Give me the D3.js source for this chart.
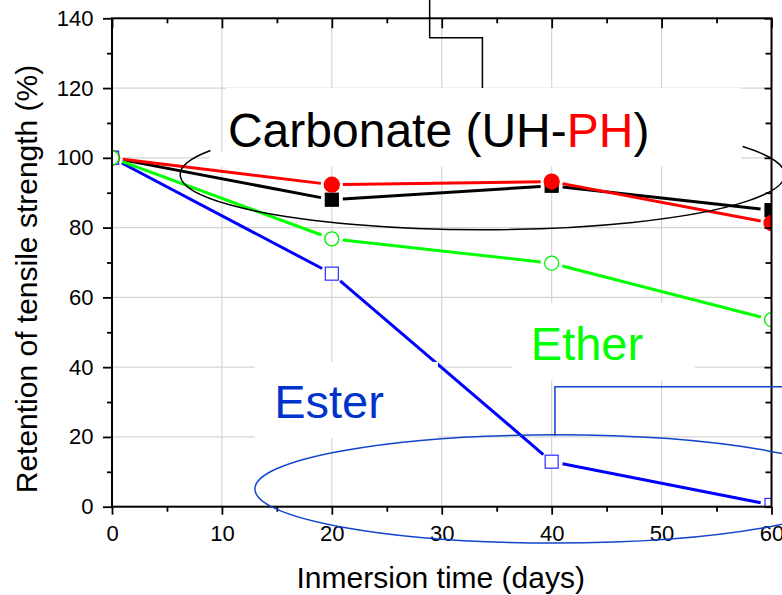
<!DOCTYPE html>
<html>
<head>
<meta charset="utf-8">
<script src="https://cdn.jsdelivr.net/npm/d3@7"></script>
<style>
body { margin: 0; background: #fff; }
svg { display: block; font-family: "Liberation Sans", Arial, sans-serif; }
</style>
</head>
<body>
<div id="chart"></div>
<script>
// values
const days = [0, 20, 40, 60];
const carbonateUH = [100, 88, 92, 85];
const carbonatePH = [100, 92.3, 93.2, 81.3];
const ether = [100, 76.8, 69.8, 53.6];
const ester = [100, 66.8, 12.9, 0.5];

const xMajor = [0, 10, 20, 30, 40, 50, 60];
const xMinor = [5, 15, 25, 35, 45, 55];
const yMajor = [0, 20, 40, 60, 80, 100, 120, 140];
const yMinor = [10, 30, 50, 70, 90, 110, 130];

// annotations, in data units
const carbonateLabelAt = [10.55, 103.2];
const esterLabelAt = [14.75, 25.4];
const etherLabelAt = [38.1, 42.1];
const carbonateEllipse = {cx: 33.7, cy: 95.2, rx: 27.5, ry: 15.8, from: -30.6, to: 205.9};
const esterEllipse = {cx: 40.3, cy: 5.1, rx: 27.3, ry: 15.5};
const carbonateLeader = [[28.9, 146], [28.9, 134.4], [33.7, 134.4], [33.7, 120.0]];
const esterLeader = [[40.3, 20.3], [40.3, 34.4], [63, 34.4]];
// white label boxes [x0, x1, y0, y1]
const labelBoxes = [
    [10.37, 57.23, 97.5, 120.1],
    [8.9, 10.37, 97.5, 101.7],
    [13.0, 29.66, 19.7, 41.5],
    [36.4, 53.05, 36.1, 58.4]
];

const width = 782, height = 595;
const gap = 11;

const x = d3.scaleLinear().domain([0, 60]).range([112, 771.5]);
const y = d3.scaleLinear().domain([0, 140]).range([506.7, 18.3]);

const svg = d3.select("#chart").append("svg")
    .attr("width", width)
    .attr("height", height);

svg.append("clipPath").attr("id", "plotClip")
    .append("rect")
    .attr("x", x(0)).attr("y", y(140))
    .attr("width", x(60) - x(0)).attr("height", y(0) - y(140));

// grid
const grid = svg.append("g").attr("stroke", "#d4d4d4").attr("stroke-width", 1.2);
grid.selectAll(".gx").data(xMajor.slice(1, -1)).enter().append("line")
    .attr("x1", d => x(d)).attr("x2", d => x(d))
    .attr("y1", y(0)).attr("y2", y(140));
grid.selectAll(".gy").data(yMajor.slice(1, -1)).enter().append("line")
    .attr("x1", x(0)).attr("x2", x(60))
    .attr("y1", d => y(d)).attr("y2", d => y(d));

// series (drawing order as in the original: green ends on top)
const series = [
    {vals: carbonateUH, color: "#000000", shape: "square", fill: "#000", stroke: "#000"},
    {vals: carbonatePH, color: "#ff0000", shape: "circle", fill: "#ff0000", stroke: "#ff0000"},
    {vals: ester, color: "#0000ff", shape: "square", fill: "#fff", stroke: "#2b2bff"},
    {vals: ether, color: "#00ff00", shape: "circle", fill: "#fff", stroke: "#00ee00"}
];

function shortened(vals) {
    const pts = days.map((d, i) => [x(d), y(vals[i])]);
    return d3.pairs(pts).map(([a, b]) => {
        const dx = b[0] - a[0], dy = b[1] - a[1];
        const len = Math.hypot(dx, dy);
        const ux = dx / len, uy = dy / len;
        return [a[0] + ux * gap, a[1] + uy * gap, b[0] - ux * gap, b[1] - uy * gap];
    });
}

const lines = svg.append("g");
series.forEach(s => {
    lines.append("g").selectAll("line")
        .data(shortened(s.vals))
        .enter().append("line")
        .attr("x1", d => d[0]).attr("y1", d => d[1])
        .attr("x2", d => d[2]).attr("y2", d => d[3])
        .attr("stroke", s.color)
        .attr("stroke-width", 3);
});

// white boxes behind the labels
svg.append("g").selectAll("rect")
    .data(labelBoxes)
    .enter().append("rect")
    .attr("x", d => x(d[0]))
    .attr("y", d => y(d[3]))
    .attr("width", d => x(d[1]) - x(d[0]))
    .attr("height", d => y(d[2]) - y(d[3]))
    .attr("fill", "#fff");

const markers = svg.append("g").attr("clip-path", "url(#plotClip)");
series.forEach(s => {
    const g = markers.append("g");
    if (s.shape === "circle") {
        g.selectAll("circle").data(days).enter().append("circle")
            .attr("cx", d => x(d))
            .attr("cy", (d, i) => y(s.vals[i]))
            .attr("r", s.fill === "#fff" ? 7 : 7.5)
            .attr("fill", s.fill)
            .attr("stroke", s.stroke)
            .attr("stroke-width", 1.3);
    } else {
        g.selectAll("rect").data(days).enter().append("rect")
            .attr("x", d => x(d) - 6.5)
            .attr("y", (d, i) => y(s.vals[i]) - 6.5)
            .attr("width", 13).attr("height", 13)
            .attr("fill", s.fill)
            .attr("stroke", s.stroke)
            .attr("stroke-width", 1.2);
    }
});

// axes
function styleAxis(g) {
    g.select(".domain").remove();
    g.selectAll("line").attr("stroke", "#000").attr("stroke-width", 1.8);
    g.selectAll("text").attr("fill", "#000").style("font-size", "22px")
        .style("font-family", "'Liberation Sans', Arial, sans-serif");
}

svg.append("g").attr("transform", `translate(0,${y(0)})`)
    .call(d3.axisBottom(x).tickValues(xMajor).tickSize(8).tickPadding(11).tickFormat(d3.format("d")))
    .call(styleAxis);
svg.append("g").attr("transform", `translate(0,${y(0)})`)
    .call(d3.axisBottom(x).tickValues(xMinor).tickSize(5).tickFormat(""))
    .call(styleAxis);
svg.append("g").attr("transform", `translate(${x(0)},0)`)
    .call(d3.axisLeft(y).tickValues(yMajor).tickSize(9).tickPadding(9.5).tickFormat(d3.format("d")))
    .call(styleAxis);
svg.append("g").attr("transform", `translate(${x(0)},0)`)
    .call(d3.axisLeft(y).tickValues(yMinor).tickSize(5).tickFormat(""))
    .call(styleAxis);
svg.append("g").attr("transform", `translate(0,${y(140)})`)
    .call(d3.axisTop(x).tickValues(xMajor).tickSize(-10).tickFormat(""))
    .call(styleAxis);
svg.append("g").attr("transform", `translate(0,${y(140)})`)
    .call(d3.axisTop(x).tickValues(xMinor).tickSize(-5).tickFormat(""))
    .call(styleAxis);
svg.append("g").attr("transform", `translate(${x(60)},0)`)
    .call(d3.axisRight(y).tickValues(yMajor).tickSize(-7).tickFormat(""))
    .call(styleAxis);
svg.append("g").attr("transform", `translate(${x(60)},0)`)
    .call(d3.axisRight(y).tickValues(yMinor).tickSize(-6).tickFormat(""))
    .call(styleAxis);

svg.append("rect")
    .attr("x", x(0)).attr("y", y(140))
    .attr("width", x(60) - x(0)).attr("height", y(0) - y(140))
    .attr("fill", "none").attr("stroke", "#000").attr("stroke-width", 2);

// axis titles
svg.append("text")
    .attr("x", (x(0) + x(60)) / 2 - 1)
    .attr("y", 588)
    .attr("text-anchor", "middle")
    .style("font-size", "30px")
    .text("Inmersion time (days)");

svg.append("text")
    .attr("transform", "translate(37,279) rotate(-90)")
    .attr("text-anchor", "middle")
    .style("font-size", "30px")
    .text("Retention of tensile strength (%)");

// annotations
const ce = carbonateEllipse;
const erx = x(ce.cx + ce.rx) - x(ce.cx), ery = y(ce.cy - ce.ry) - y(ce.cy);
const angle0 = ce.from * Math.PI / 180, angle1 = ce.to * Math.PI / 180;
const p0 = [x(ce.cx) + erx * Math.cos(angle0), y(ce.cy) + ery * Math.sin(angle0)];
const p1 = [x(ce.cx) + erx * Math.cos(angle1), y(ce.cy) + ery * Math.sin(angle1)];
svg.append("path")
    .attr("d", `M${p0[0]},${p0[1]} A${erx},${ery} 0 1 1 ${p1[0]},${p1[1]}`)
    .attr("fill", "none").attr("stroke", "#000").attr("stroke-width", 1.5);

const ee = esterEllipse;
svg.append("ellipse")
    .attr("cx", x(ee.cx)).attr("cy", y(ee.cy))
    .attr("rx", x(ee.cx + ee.rx) - x(ee.cx))
    .attr("ry", y(ee.cy - ee.ry) - y(ee.cy))
    .attr("fill", "none").attr("stroke", "#1144cc").attr("stroke-width", 1.5);

const leader = d3.line().x(d => x(d[0])).y(d => y(d[1]));
svg.append("path").attr("d", leader(carbonateLeader))
    .attr("fill", "none").attr("stroke", "#000").attr("stroke-width", 1.5);
svg.append("path").attr("d", leader(esterLeader))
    .attr("fill", "none").attr("stroke", "#1144cc").attr("stroke-width", 1.5);

const carbLabel = svg.append("text")
    .attr("x", x(carbonateLabelAt[0]))
    .attr("y", y(carbonateLabelAt[1]))
    .style("font-size", "48px");
carbLabel.append("tspan").attr("fill", "#000").text("Carbonate (UH-");
carbLabel.append("tspan").attr("fill", "#ff0000").text("PH");
carbLabel.append("tspan").attr("fill", "#000").text(")");

svg.append("text")
    .attr("x", x(esterLabelAt[0]))
    .attr("y", y(esterLabelAt[1]))
    .attr("fill", "#0033cc")
    .style("font-size", "47px")
    .text("Ester");

svg.append("text")
    .attr("x", x(etherLabelAt[0]))
    .attr("y", y(etherLabelAt[1]))
    .attr("fill", "#00ff00")
    .style("font-size", "47px")
    .text("Ether");
</script>
</body>
</html>
